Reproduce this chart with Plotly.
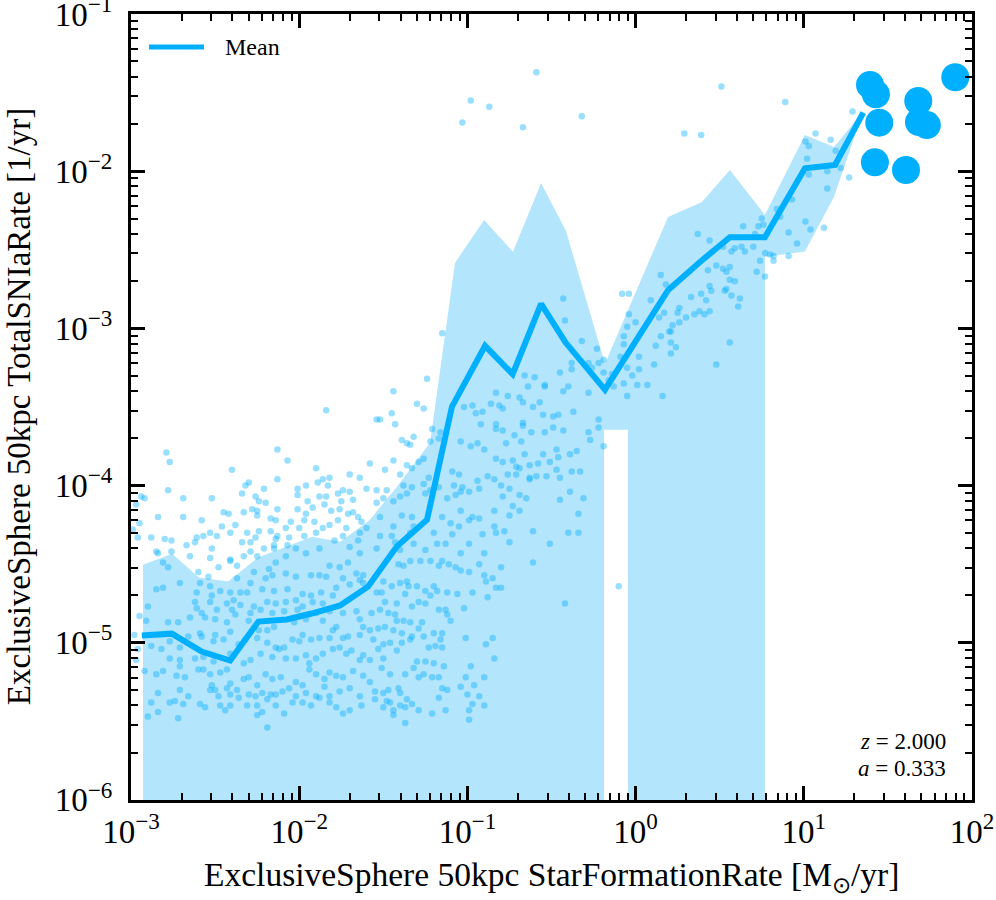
import plotly.graph_objects as go

# binned mean of SNIa rate vs SFR (log10 values)
mean_log_sfr = [-2.936, -2.758, -2.580, -2.411, -2.243, -2.074, -1.926, -1.757, -1.591, -1.420, -1.240, -1.092,
                -0.895, -0.731, -0.562, -0.416, -0.182, 0.194, 0.383, 0.561, 0.769, 1.007, 1.186, 1.354]
mean_log_snia = [-4.954, -4.942, -5.056, -5.113, -4.865, -4.852, -4.814, -4.763, -4.643, -4.387, -4.217, -3.498,
                 -3.111, -3.291, -2.844, -3.090, -3.390, -2.755, -2.577, -2.420, -2.420, -1.981, -1.960, -1.627]

# upper edge of the shaded band
band_top_log_sfr = [-2.929, -2.756, -2.596, -2.423, -2.245, -2.078, -1.924, -1.757, -1.585, -1.419, -1.222, -1.074,
                    -0.901, -0.729, -0.562, -0.414, -0.182, 0.193, 0.395, 0.561, 0.769, 1.007, 1.180, 1.352]
band_top_log_snia = [-4.503, -4.433, -4.585, -4.611, -4.458, -4.388, -4.325, -4.357, -4.223, -4.007, -3.727, -2.583,
                     -2.310, -2.513, -2.074, -2.380, -3.225, -2.291, -2.195, -1.992, -2.278, -1.769, -1.846, -1.623]
# lower edge, right to left (-7 = zero rate, off the bottom of the axis)
band_low_log_sfr = [1.352, 1.180, 1.007, 0.769, 0.769, -0.045, -0.045, -0.188, -0.188, -2.929]
band_low_log_snia = [-1.623, -2.163, -2.511, -2.545, -7, -7, -3.645, -3.645, -7, -7]

# the few most star-forming objects, drawn large
big_log_sfr = [1.394, 1.429, 1.449, 1.423, 1.608, 1.681, 1.685, 1.732, 1.901]
big_log_snia = [-1.451, -1.510, -1.691, -1.943, -1.992, -1.553, -1.687, -1.706, -1.402]

# individual galaxies (log10 SFR, log10 SNIa rate)
pts_mid_left = [(-2.79,-3.79),(-2.77,-3.85),(-1.84,-3.52),(-2.13,-3.77),(-2.07,-3.84),(-2.40,-3.90),(-2.13,-3.96),(-1.90,-3.89),(-2.78,-4.03),(-2.94,-4.07),(-2.92,-4.08),(-2.97,-4.12),(-2.69,-4.08),(-2.52,-4.08),(-2.30,-3.98),(-2.32,-4.00),(-2.34,-4.05),(-2.21,-4.02),(-2.26,-4.07),(-2.24,-4.10),(-2.20,-4.11),(-2.28,-4.15),(-2.25,-4.16),(-2.25,-4.19),(-2.33,-4.17),(-2.45,-4.17),(-2.42,-4.18),(-2.58,-4.22),(-2.69,-4.20),(-2.84,-4.20),(-2.95,-4.24),(-2.99,-4.28),(-2.96,-4.33),(-2.88,-4.33),(-2.80,-4.34),(-2.76,-4.35),(-2.85,-4.42),(-2.84,-4.43),(-2.76,-4.42),(-2.67,-4.38),(-2.61,-4.33),(-2.62,-4.36),(-2.57,-4.32),(-2.53,-4.30),(-2.52,-4.40),(-2.49,-4.32),(-2.46,-4.26),(-2.38,-4.25),(-2.41,-4.30),(-2.34,-4.36),(-2.31,-4.30),(-2.29,-4.36),(-2.26,-4.33),(-2.24,-4.29),(-2.29,-4.42),(-2.21,-4.40),(-2.17,-4.21),(-2.14,-4.22),(-2.17,-4.29),(-2.13,-4.15),(-2.13,-4.32),(-2.14,-4.34),(-2.15,-4.38),(-2.07,-4.38),(-2.06,-4.33),(-2.08,-4.27),(-2.05,-4.23),(-2.01,-4.15),(-2.00,-4.27),(-1.97,-4.22),(-1.96,-4.18),(-1.97,-4.32),(-1.91,-4.23),(-1.92,-4.14),(-1.90,-4.30),(-1.86,-4.27),(-1.85,-4.12),(-1.81,-4.16),(-1.82,-4.25),(-1.88,-4.07),(-1.84,-4.07),(-1.79,-4.35),(-1.77,-4.22),(-1.76,-4.15),(-1.75,-4.10),(-1.74,-4.32),(-1.72,-4.27),(-1.71,-4.18),(-1.68,-4.17),(-1.65,-4.20),(-1.63,-4.23),(-1.68,-4.09),(-1.70,-4.04),(-1.74,-4.03),(-1.77,-4.05),(-1.82,-3.95),(-1.86,-3.96),(-1.89,-3.98),(-1.83,-4.00),(-1.96,-4.00),(-2.01,-4.02),(-2.01,-4.06),(-1.95,-4.10),(-1.70,-3.93),(-1.64,-3.95),(-1.60,-4.02),(-1.58,-3.86),(-1.65,-4.35),(-1.60,-4.27),(-1.64,-4.30),(-1.70,-4.39),(-1.64,-4.43),(-1.88,-4.40),(-1.96,-4.43),(-2.02,-4.40),(-2.08,-4.45),(-2.15,-4.40),(-2.25,-4.45),(-2.33,-4.45),(-2.41,-4.47),(-2.53,-4.46),(-2.65,-4.45)]

pts_mid_right = [(-1.44,-3.40),(-1.30,-3.48),(-1.26,-3.51),(-1.45,-3.54),(-1.54,-3.58),(-1.52,-3.58),(-1.43,-3.61),(-1.21,-3.64),(-1.16,-3.66),(-1.17,-3.70),(-1.39,-3.71),(-1.36,-3.73),(-1.34,-3.74),(-1.32,-3.69),(-1.22,-3.72),(-1.44,-3.84),(-1.36,-3.87),(-1.29,-3.85),(-1.26,-3.83),(-1.49,-3.90),(-1.40,-3.93),(-1.33,-3.89),(-1.02,-3.50),(-0.97,-3.49),(-0.95,-3.54),(-0.91,-3.53),(-0.86,-3.48),(-0.81,-3.49),(-0.79,-3.51),(-0.83,-3.41),(-0.76,-3.43),(-0.69,-3.44),(-0.67,-3.47),(-0.64,-3.37),(-0.54,-3.37),(-0.43,-3.40),(-0.40,-3.37),(-0.28,-3.41),(-0.57,-3.47),(-0.61,-3.50),(-0.55,-3.55),(-0.49,-3.56),(-0.46,-3.55),(-0.37,-3.53),(-0.92,-3.61),(-0.83,-3.61),(-0.83,-3.64),(-0.79,-3.65),(-0.72,-3.68),(-0.67,-3.60),(-0.67,-3.62),(-0.62,-3.66),(-0.54,-3.66),(-0.49,-3.63),(-0.43,-3.65),(-0.22,-3.58),(-0.22,-3.63),(-0.28,-3.66),(-0.27,-3.71),(-0.19,-3.75),(-1.04,-3.72),(-0.94,-3.73),(-0.98,-3.75),(-0.90,-3.77),(-0.83,-3.83),(-0.79,-3.85),(-0.77,-3.73),(-0.73,-3.84),(-0.71,-3.88),(-0.68,-3.72),(-0.66,-3.80),(-0.63,-3.87),(-0.58,-3.86),(-0.55,-3.80),(-0.51,-3.85),(-0.47,-3.77),(-0.46,-3.82),(-0.39,-3.80),(-0.35,-3.78),(-1.09,-3.91),(-1.05,-3.93),(-1.08,-4.00),(-0.94,-3.97),(-0.93,-4.02),(-0.88,-3.94),(-0.84,-3.96),(-0.80,-4.00),(-0.76,-3.93),(-0.71,-3.93),(-0.69,-3.89),(-0.63,-3.95),(-0.59,-3.94),(-0.53,-3.94),(-0.47,-3.90),(-0.45,-3.95),(-0.38,-3.91),(-0.33,-3.91),(-1.17,-4.01),(-1.03,-4.01),(-1.04,-4.04),(-0.99,-4.04),(-1.07,-4.06),(-1.12,-4.08),(-1.22,-4.03),(-1.25,-4.05),(-1.26,-3.99),(-1.23,-3.95),(-1.33,-4.01),(-1.38,-4.00),(-1.36,-4.05),(-1.40,-4.07),(-1.44,-4.10),(-1.48,-4.03),(-1.54,-4.03),(-1.50,-4.08),(-1.54,-4.11),(-1.52,-4.20),(-1.39,-4.19),(-1.33,-4.20),(-1.32,-4.26),(-1.34,-4.30),(-1.44,-4.26),(-1.45,-4.32),(-1.52,-4.32),(-1.54,-4.40),(-1.43,-4.36),(-1.40,-4.41),(-1.32,-4.37),(-1.25,-4.41),(-1.20,-4.30),(-1.18,-4.37),(-1.13,-4.37),(-1.09,-4.31),(-1.05,-4.26),(-0.99,-4.22),(-0.93,-4.21),(-0.91,-4.31),(-0.83,-4.30),(-0.78,-4.29),(-0.75,-4.36),(-0.99,-4.37),(-1.04,-4.43),(-0.90,-4.43),(-1.15,-4.20),(-1.10,-4.24),(-1.04,-4.16),(-0.97,-4.20),(-0.84,-4.26),(-0.84,-4.16),(-0.75,-4.19),(-0.69,-4.16),(-0.73,-4.13),(-0.61,-4.29),(-0.51,-4.37),(-0.40,-4.30),(-0.34,-4.30),(-0.34,-4.18),(-0.31,-4.08),(-0.39,-4.04),(-0.45,-4.09),(-0.69,-4.06),(-0.75,-4.02),(-0.65,-4.08),(-0.63,-3.96),(-0.79,-4.07)]

pts_low_left = [(-2.81,-4.49),(-2.78,-4.52),(-2.60,-4.55),(-2.54,-4.58),(-2.48,-4.52),(-2.41,-4.48),(-2.37,-4.51),(-2.27,-4.55),(-2.20,-4.59),(-2.18,-4.53),(-2.14,-4.49),(-2.16,-4.57),(-2.08,-4.56),(-2.02,-4.58),(-1.93,-4.57),(-1.88,-4.57),(-1.82,-4.51),(-1.76,-4.52),(-1.71,-4.49),(-1.66,-4.56),(-1.62,-4.57),(-1.64,-4.60),(-1.74,-4.59),(-1.84,-4.58),(-2.29,-4.62),(-2.37,-4.59),(-2.71,-4.62),(-2.59,-4.62),(-2.61,-4.68),(-2.53,-4.64),(-2.52,-4.70),(-2.47,-4.67),(-2.41,-4.68),(-2.35,-4.68),(-2.39,-4.73),(-2.31,-4.68),(-2.22,-4.66),(-2.15,-4.67),(-2.07,-4.66),(-2.02,-4.73),(-1.98,-4.69),(-1.93,-4.70),(-1.87,-4.68),(-1.80,-4.70),(-1.78,-4.65),(-1.70,-4.63),(-1.62,-4.62),(-2.85,-4.66),(-2.81,-4.65),(-2.62,-4.74),(-2.53,-4.74),(-2.43,-4.75),(-2.35,-4.76),(-2.27,-4.77),(-2.19,-4.74),(-2.14,-4.75),(-2.08,-4.74),(-1.98,-4.77),(-1.92,-4.74),(-1.86,-4.75),(-2.90,-4.77),(-2.61,-4.78),(-2.58,-4.81),(-2.49,-4.79),(-2.40,-4.79),(-2.38,-4.82),(-2.29,-4.81),(-2.23,-4.79),(-2.16,-4.81),(-2.09,-4.80),(-2.01,-4.79),(-1.90,-4.81),(-1.82,-4.80),(-1.74,-4.81),(-1.66,-4.80),(-2.95,-4.83),(-2.91,-4.86),(-2.78,-4.87),(-2.72,-4.87),(-2.65,-4.84),(-2.56,-4.84),(-2.50,-4.85),(-2.43,-4.87),(-2.30,-4.86),(-2.24,-4.92),(-2.19,-4.92),(-2.15,-4.90),(-2.03,-4.87),(-1.96,-4.85),(-1.86,-4.86),(-1.78,-4.90),(-1.64,-4.85),(-1.62,-4.90),(-2.98,-4.95),(-2.88,-5.02),(-2.82,-5.04),(-2.77,-4.99),(-2.71,-5.03),(-2.66,-4.96),(-2.59,-4.94),(-2.58,-4.96),(-2.50,-4.95),(-2.45,-4.98),(-2.41,-4.93),(-2.51,-4.99),(-2.36,-5.01),(-2.32,-4.98),(-2.25,-4.97),(-2.19,-5.00),(-2.14,-5.03),(-2.09,-5.03),(-2.04,-4.98),(-2.00,-4.99),(-1.98,-4.95),(-1.93,-4.98),(-1.88,-4.97),(-1.82,-4.97),(-1.80,-4.92),(-1.74,-4.97),(-1.71,-4.96),(-1.64,-4.95),(-2.96,-5.04),(-2.77,-5.10),(-2.71,-5.11),(-2.62,-5.10),(-2.57,-5.09),(-2.51,-5.12),(-2.43,-5.17),(-2.41,-5.07),(-2.33,-5.13),(-2.29,-5.11),(-2.23,-5.07),(-2.16,-5.09),(-2.12,-5.04),(-2.08,-5.10),(-2.02,-5.10),(-1.96,-5.08),(-1.94,-5.13),(-1.90,-5.10),(-1.86,-5.07),(-1.80,-5.04),(-1.76,-5.03),(-1.72,-5.07),(-1.69,-5.05),(-1.64,-5.11),(-1.62,-5.08),(-2.97,-5.11),(-2.92,-5.18),(-2.85,-5.20),(-2.81,-5.18),(-2.71,-5.15),(-2.73,-5.21),(-2.68,-5.22),(-2.60,-5.17),(-2.57,-5.17),(-2.53,-5.20),(-2.47,-5.19),(-2.52,-5.27),(-2.50,-5.30),(-2.43,-5.29),(-2.41,-5.26),(-2.37,-5.30),(-2.33,-5.23),(-2.30,-5.22),(-2.25,-5.27),(-2.20,-5.20),(-2.16,-5.23),(-2.11,-5.22),(-2.06,-5.29),(-2.02,-5.25),(-1.98,-5.27),(-1.94,-5.17),(-1.90,-5.20),(-1.85,-5.23),(-1.82,-5.19),(-1.78,-5.21),(-1.74,-5.22),(-1.68,-5.18),(-1.62,-5.21),(-2.71,-5.30),(-2.66,-5.34),(-2.53,-5.30),(-2.48,-5.34),(-2.41,-5.33),(-2.36,-5.35),(-2.30,-5.33),(-2.26,-5.34),(-2.22,-5.32),(-2.17,-5.33),(-2.14,-5.33),(-2.10,-5.31),(-2.02,-5.34),(-1.96,-5.32),(-1.90,-5.34),(-1.85,-5.28),(-1.82,-5.34),(-1.76,-5.31),(-1.70,-5.29),(-1.64,-5.34),(-2.84,-5.32),(-2.77,-5.38),(-2.74,-5.37),(-2.69,-5.39),(-2.72,-5.48),(-2.88,-5.38),(-2.84,-5.44),(-2.90,-5.47),(-2.59,-5.39),(-2.56,-5.41),(-2.47,-5.40),(-2.44,-5.43),(-2.41,-5.40),(-2.31,-5.40),(-2.25,-5.40),(-2.22,-5.44),(-2.19,-5.36),(-2.14,-5.40),(-2.09,-5.45),(-2.04,-5.38),(-1.98,-5.38),(-1.93,-5.40),(-1.88,-5.35),(-1.82,-5.38),(-1.78,-5.41),(-1.74,-5.45),(-1.70,-5.43),(-1.63,-5.40),(-2.19,-5.54),(-2.25,-5.46)]

pts_low_right = [(-1.41,-4.50),(-1.38,-4.51),(-1.34,-4.48),(-1.28,-4.48),(-1.22,-4.48),(-1.17,-4.51),(-1.15,-4.48),(-1.11,-4.50),(-1.07,-4.52),(-1.04,-4.54),(-0.99,-4.55),(-0.93,-4.50),(-0.90,-4.57),(-0.89,-4.61),(-0.85,-4.59),(-0.80,-4.52),(-0.83,-4.65),(-0.80,-4.65),(-0.61,-4.49),(-0.42,-4.75),(-1.50,-4.61),(-1.45,-4.64),(-1.40,-4.62),(-1.36,-4.61),(-1.35,-4.64),(-1.30,-4.64),(-1.25,-4.67),(-1.20,-4.64),(-1.18,-4.67),(-1.12,-4.68),(-1.06,-4.69),(-1.02,-4.78),(-0.97,-4.68),(-0.88,-4.71),(-1.54,-4.68),(-1.51,-4.68),(-1.49,-4.74),(-1.42,-4.75),(-1.37,-4.69),(-1.33,-4.77),(-1.29,-4.74),(-1.25,-4.75),(-1.22,-4.70),(-1.17,-4.79),(-1.13,-4.79),(-1.12,-4.82),(-1.10,-4.86),(-1.57,-4.81),(-1.52,-4.79),(-1.47,-4.81),(-1.43,-4.82),(-1.42,-4.86),(-1.38,-4.86),(-1.34,-4.87),(-1.27,-4.87),(-1.58,-4.92),(-1.53,-4.91),(-1.49,-4.90),(-1.44,-4.92),(-1.39,-4.94),(-1.33,-4.96),(-1.29,-4.91),(-1.26,-4.96),(-1.20,-4.94),(-1.15,-4.94),(-1.16,-4.98),(-1.01,-4.97),(-0.89,-5.01),(-0.85,-4.97),(-1.56,-4.98),(-1.50,-5.01),(-1.46,-5.00),(-1.39,-5.00),(-1.34,-4.98),(-1.23,-5.03),(-1.19,-5.02),(-1.15,-5.03),(-1.53,-5.04),(-1.42,-5.05),(-1.58,-5.11),(-1.50,-5.10),(-1.46,-5.20),(-1.51,-5.16),(-1.37,-5.20),(-1.32,-5.16),(-1.30,-5.12),(-1.25,-5.12),(-1.20,-5.13),(-1.14,-5.15),(-1.29,-5.22),(-1.26,-5.20),(-1.21,-5.22),(-1.17,-5.22),(-0.98,-5.15),(-1.01,-5.22),(-0.90,-5.22),(-0.84,-5.10),(-1.58,-5.25),(-1.55,-5.31),(-1.50,-5.32),(-1.47,-5.30),(-1.48,-5.37),(-1.50,-5.41),(-1.46,-5.38),(-1.55,-5.36),(-1.44,-5.43),(-1.44,-5.46),(-1.41,-5.29),(-1.40,-5.32),(-1.40,-5.40),(-1.36,-5.36),(-1.37,-5.41),(-1.33,-5.39),(-1.29,-5.43),(-1.37,-5.51),(-1.21,-5.45),(-1.15,-5.29),(-1.12,-5.30),(-1.17,-5.35),(-1.13,-5.43),(-1.04,-5.28),(-1.00,-5.33),(-0.96,-5.27),(-0.93,-5.34),(-0.97,-5.39),(-0.90,-5.40),(-0.99,-5.43),(-0.99,-5.49)]

pts_peak = [(-0.59,-1.37),(-0.98,-1.55),(-0.87,-1.59),(-1.03,-1.69),(-0.67,-1.72),(-0.32,-1.65),(0.51,-1.46),(-1.15,-3.03),(-1.24,-3.32),(-0.43,-2.81),(-0.42,-2.95),(-0.32,-3.08),(-0.23,-3.13),(-0.66,-3.30),(-0.60,-3.31),(-0.54,-3.36),(-0.38,-3.22),(-0.38,-3.26),(-0.28,-3.22),(-0.26,-3.25),(-0.22,-3.22),(-0.45,-3.28),(-0.10,-4.64)]

pts_right = [(0.89,-1.56),(0.29,-1.76),(0.39,-1.77),(1.29,-1.62),(1.07,-1.76),(1.16,-1.80),(1.01,-1.81),(1.03,-1.84),(1.19,-1.87),(1.02,-1.92),(1.22,-1.98),(1.27,-2.04),(1.14,-2.00),(1.03,-2.02),(1.14,-2.11),(0.93,-2.18),(0.84,-2.24),(0.86,-2.29),(0.75,-2.30),(0.76,-2.34),(0.73,-2.35),(0.64,-2.35),(0.71,-2.40),(0.37,-2.40),(0.44,-2.44),(1.01,-2.32),(1.04,-2.37),(1.12,-2.36),(0.91,-2.39),(0.96,-2.46),(0.91,-2.54),(0.77,-2.52),(0.80,-2.53),(0.82,-2.54),(0.82,-2.57),(0.74,-2.57),(0.72,-2.64),(0.77,-2.67),(0.59,-2.49),(0.57,-2.51),(0.65,-2.51),(0.70,-2.48),(0.63,-2.48),(0.52,-2.48),(0.48,-2.60),(0.52,-2.62),(0.56,-2.61),(0.54,-2.64),(0.56,-2.69),(0.59,-2.70),(0.53,-2.76),(0.54,-2.75),(0.57,-2.79),(0.62,-2.81),(0.61,-2.86),(0.43,-2.63),(0.44,-2.73),(0.45,-2.76),(0.39,-2.78),(0.33,-2.80),(0.42,-2.82),(0.26,-2.87),(0.25,-2.90),(0.30,-2.93),(0.35,-2.91),(0.38,-2.89),(0.41,-2.91),(0.44,-2.89),(0.15,-2.66),(0.18,-2.72),(0.09,-2.82),(-0.04,-2.91),(-0.08,-2.78),(-0.04,-2.78),(0.17,-2.90),(0.14,-2.93),(0.20,-3.02),(0.22,-2.98),(0.26,-2.96),(0.21,-3.02),(0.00,-2.96),(-0.05,-2.99),(-0.07,-3.05),(-0.07,-3.10),(0.15,-3.05),(0.12,-3.11),(0.21,-3.09),(0.24,-3.12),(0.21,-3.16),(0.56,-3.09),(0.11,-3.23),(0.48,-3.23),(-0.09,-3.18),(-0.19,-3.20),(-0.19,-3.28),(-0.14,-3.29),(-0.05,-3.25),(-0.02,-3.30),(0.02,-3.26),(0.02,-3.18),(-0.07,-3.35),(0.01,-3.36),(0.07,-3.36),(-0.05,-3.43),(0.16,-3.43),(-0.16,-3.33),(-0.13,-3.37)]

x_decades = [-3, -2, -1, 0, 1, 2]
y_decades = [-6, -5, -4, -3, -2, -1]

BLUE = "#00b0ff"
BAND = "#b3e5fc"
FONT = "Liberation Serif"


def lin(vals):
    return [10 ** v for v in vals]


all_pts = pts_mid_left + pts_mid_right + pts_low_left + pts_low_right + pts_peak + pts_right

fig = go.Figure()

fig.add_trace(go.Scatter(
    x=lin(band_top_log_sfr + band_low_log_sfr),
    y=lin(band_top_log_snia + band_low_log_snia),
    mode="lines", fill="toself", fillcolor=BAND, line=dict(width=0),
    hoverinfo="skip", showlegend=False))

fig.add_trace(go.Scatter(
    x=lin([p[0] for p in all_pts]), y=lin([p[1] for p in all_pts]),
    mode="markers", marker=dict(size=6.5, color="rgba(0,176,255,0.4)", line=dict(width=0)),
    showlegend=False))

fig.add_trace(go.Scatter(
    x=lin(mean_log_sfr), y=lin(mean_log_snia), mode="lines",
    line=dict(color=BLUE, width=6), name="Mean", showlegend=False))

fig.add_trace(go.Scatter(
    x=lin(big_log_sfr), y=lin(big_log_snia), mode="markers",
    marker=dict(size=28, color=BLUE, line=dict(width=0)), showlegend=False))


def sup_label(e):
    return "10<sup>" + str(e).replace("-", "\u2212") + "</sup>"


def minor_vals(decades):
    return [m * 10 ** e for e in decades[:-1] for m in range(2, 10)]


axis_style = dict(
    type="log", showline=True, linecolor="black", linewidth=3, mirror="allticks",
    ticks="inside", ticklen=14, tickwidth=2.5, tickcolor="black",
    showgrid=False, zeroline=False, automargin=False, ticklabeloverflow="allow",
    tickfont=dict(family=FONT, size=33, color="black"),
)

fig.update_xaxes(
    **axis_style, range=[-3.0005, 2.0005],
    tickmode="array", tickvals=lin(x_decades), ticktext=[sup_label(e) for e in x_decades],
    minor=dict(tickmode="array", tickvals=minor_vals(x_decades), ticks="inside",
               ticklen=7, tickwidth=2, tickcolor="black", showgrid=False),
    ticklabelstandoff=0,
)
fig.update_yaxes(
    **axis_style, range=[-6.0005, -0.9995],
    tickmode="array", tickvals=lin(y_decades), ticktext=[sup_label(e) for e in y_decades],
    minor=dict(tickmode="array", tickvals=minor_vals(y_decades), ticks="inside",
               ticklen=7, tickwidth=2, tickcolor="black", showgrid=False),
    ticklabelstandoff=9,
)

fig.add_annotation(xref="paper", yref="paper", x=0.5, y=-0.098, yanchor="middle",
                   text="ExclusiveSphere 50kpc StarFormationRate [M<sub>\u2299</sub>/yr]",
                   showarrow=False, font=dict(family=FONT, size=33.5, color="black"))
fig.add_annotation(xref="paper", yref="paper", x=-0.133, y=0.5, xanchor="center", textangle=-90,
                   text="ExclusiveSphere 50kpc TotalSNIaRate [1/yr]",
                   showarrow=False, font=dict(family=FONT, size=33, color="black"))

# hand-drawn legend entry
fig.add_shape(type="line", xref="paper", yref="paper", x0=0.0214, x1=0.0868, y0=0.958, y1=0.958,
              line=dict(color=BLUE, width=5))
fig.add_annotation(xref="paper", yref="paper", x=0.1094, y=0.958, text="Mean", showarrow=False,
                   xanchor="left", yanchor="middle", font=dict(family=FONT, size=24, color="black"))

fig.add_annotation(xref="paper", yref="paper", x=0.9715, y=0.075, text="<i>z</i> = 2.000", showarrow=False,
                   xanchor="right", yanchor="middle", font=dict(family=FONT, size=23, color="black"))
fig.add_annotation(xref="paper", yref="paper", x=0.9715, y=0.04, text="<i>a</i> = 0.333", showarrow=False,
                   xanchor="right", yanchor="middle", font=dict(family=FONT, size=23, color="black"))

fig.update_layout(
    width=996, height=900,
    margin=dict(l=131, r=24, t=14, b=100),
    plot_bgcolor="white", paper_bgcolor="white",
    showlegend=False,
)

# drop the browser's default 8px body margin so the figure fills the window exactly
fig.write_html("out.html", config={"displayModeBar": False},
               post_script="document.body.style.margin='0';")
